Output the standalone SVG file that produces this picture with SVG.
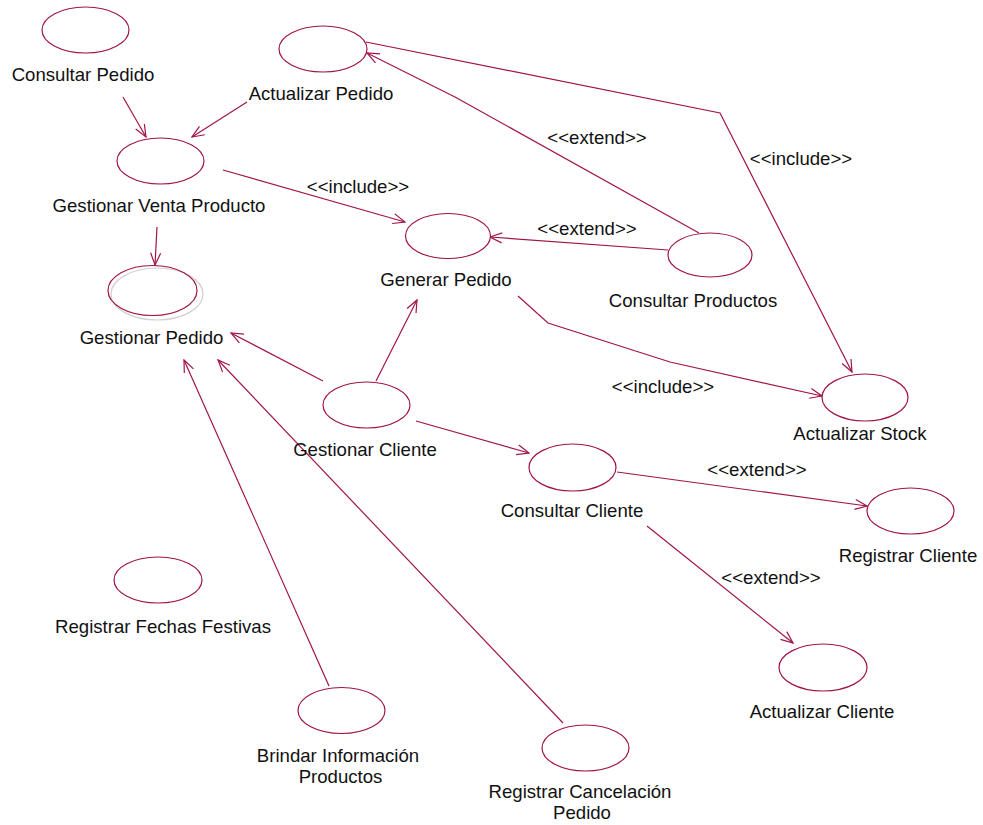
<svg xmlns="http://www.w3.org/2000/svg" width="983" height="825" viewBox="0 0 983 825">
<style>
.uc{fill:#fff;stroke:#A0144A;stroke-width:1.2}
.sh{fill:none;stroke:#d0d0d0;stroke-width:1.2}
.t{font-family:"Liberation Sans",Arial,sans-serif;font-size:18.6px;fill:#111;text-anchor:middle}
.c{fill:none;stroke:#A0144A;stroke-width:1.2}
</style>
<defs>
<marker id="a" viewBox="0 0 14 12" markerWidth="14" markerHeight="12" refX="13" refY="6" orient="auto" markerUnits="userSpaceOnUse">
<path d="M1,1 L13,6 L1,11" fill="none" stroke="#A0144A" stroke-width="1.2"/>
</marker>
</defs>
<rect width="983" height="825" fill="#fff"/>
<g id="connectors">
<path class="c" d="M123,97 L146,137" marker-end="url(#a)"/>
<path class="c" d="M247,102 L192,137" marker-end="url(#a)"/>
<path class="c" d="M223,170 L405,222" marker-end="url(#a)"/>
<path class="c" d="M157,227 L155,265" marker-end="url(#a)"/>
<path class="c" d="M366,42 L720,113 L852,372" marker-end="url(#a)"/>
<path class="c" d="M699,233 L455,97 L367,53" marker-end="url(#a)"/>
<path class="c" d="M668,250 L490,237" marker-end="url(#a)"/>
<path class="c" d="M518,296 L548,323 L670,362 L822,396" marker-end="url(#a)"/>
<path class="c" d="M323,381 L231,333" marker-end="url(#a)"/>
<path class="c" d="M376,381 L417,300" marker-end="url(#a)"/>
<path class="c" d="M416,421 L529,453" marker-end="url(#a)"/>
<path class="c" d="M329,686 L184,360" marker-end="url(#a)"/>
<path class="c" d="M563,723 L218,360" marker-end="url(#a)"/>
<path class="c" d="M617,472 L867,506" marker-end="url(#a)"/>
<path class="c" d="M647,526 L793,643" marker-end="url(#a)"/>
<text class="t" x="358" y="193">&lt;&lt;include&gt;&gt;</text>
<text class="t" x="801" y="165">&lt;&lt;include&gt;&gt;</text>
<text class="t" x="597" y="144">&lt;&lt;extend&gt;&gt;</text>
<text class="t" x="587" y="235">&lt;&lt;extend&gt;&gt;</text>
<text class="t" x="663" y="393">&lt;&lt;include&gt;&gt;</text>
<text class="t" x="757" y="476">&lt;&lt;extend&gt;&gt;</text>
<text class="t" x="771" y="584">&lt;&lt;extend&gt;&gt;</text>
</g>
<g id="consultar-pedido"><ellipse class="uc" cx="85.5" cy="30" rx="43.5" ry="23"/><text class="t" x="83" y="81">Consultar Pedido</text></g>
<g id="actualizar-pedido"><ellipse class="uc" cx="323" cy="49" rx="44" ry="23"/><text class="t" x="321" y="100">Actualizar Pedido</text></g>
<g id="gestionar-venta-producto"><ellipse class="uc" cx="160.5" cy="161" rx="43.5" ry="23"/><text class="t" x="159" y="212">Gestionar Venta Producto</text></g>
<g id="gestionar-pedido"><ellipse class="sh" cx="157" cy="294" rx="46" ry="26"/><ellipse class="uc" cx="152.5" cy="290.5" rx="44.5" ry="25" style="fill:none"/><text class="t" x="151.5" y="344">Gestionar Pedido</text></g>
<g id="generar-pedido"><ellipse class="uc" cx="448" cy="236" rx="42.5" ry="22.5"/><text class="t" x="446" y="286">Generar Pedido</text></g>
<g id="consultar-productos"><ellipse class="uc" cx="710" cy="255" rx="42" ry="22"/><text class="t" x="693" y="307">Consultar Productos</text></g>
<g id="gestionar-cliente"><ellipse class="uc" cx="366.5" cy="405" rx="43.5" ry="23"/><text class="t" x="365" y="456">Gestionar Cliente</text></g>
<g id="actualizar-stock"><ellipse class="uc" cx="865" cy="397.5" rx="43" ry="23.5"/><text class="t" x="860" y="440">Actualizar Stock</text></g>
<g id="consultar-cliente"><ellipse class="uc" cx="572.5" cy="467.5" rx="43.5" ry="23.5"/><text class="t" x="572" y="517">Consultar Cliente</text></g>
<g id="registrar-cliente"><ellipse class="uc" cx="910.5" cy="511" rx="43.5" ry="23"/><text class="t" x="908" y="562">Registrar Cliente</text></g>
<g id="actualizar-cliente"><ellipse class="uc" cx="823" cy="667.5" rx="44" ry="23.5"/><text class="t" x="822" y="718">Actualizar Cliente</text></g>
<g id="registrar-fechas-festivas"><ellipse class="uc" cx="158" cy="580" rx="44" ry="23"/><text class="t" x="163" y="633">Registrar Fechas Festivas</text></g>
<g id="brindar-informacion-productos"><ellipse class="uc" cx="341.5" cy="710.5" rx="43.5" ry="23"/><text class="t" x="338" y="762">Brindar Información</text><text class="t" x="340.5" y="783">Productos</text></g>
<g id="registrar-cancelacion-pedido"><ellipse class="uc" cx="585.5" cy="748" rx="43.5" ry="23"/><text class="t" x="580" y="798">Registrar Cancelación</text><text class="t" x="582" y="819">Pedido</text></g>
</svg>
